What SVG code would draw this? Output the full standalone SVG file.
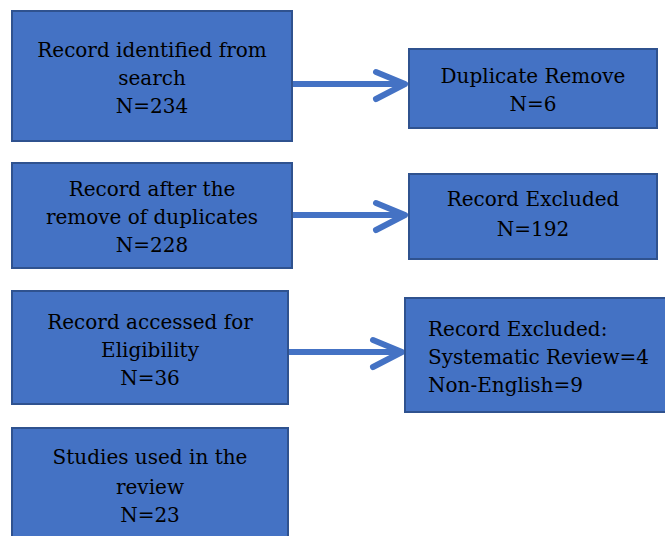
<svg xmlns="http://www.w3.org/2000/svg" width="665" height="536" viewBox="0 0 665 536">
<style>
.box{fill:#4472C4;stroke:#2F528F;stroke-width:2}
text{font-family:"DejaVu Serif","Liberation Serif",serif;font-size:20px;fill:#000}
.c{text-anchor:middle}
.arr{fill:none;stroke:#4472C4;stroke-width:6;stroke-linecap:round;stroke-linejoin:round}
</style>
<rect width="665" height="536" fill="#fff"/>
<g id="connectors">
<path class="arr" d="M292 84 H404 M376 72 L405 84 L376 99"/>
<path class="arr" d="M292 215 H404 M376 203 L405 215 L376 230"/>
<path class="arr" d="M288 352 H400 M373 340 L402 352 L373 367"/>
</g>
<g id="n1"><rect class="box" x="12" y="11" width="280" height="130"/>
<text class="c" x="152" y="57">Record identified from</text>
<text class="c" x="152" y="85">search</text>
<text class="c" x="152" y="113">N=234</text></g>
<g id="n2"><rect class="box" x="409" y="49" width="248" height="79"/>
<text class="c" x="533" y="83">Duplicate Remove</text>
<text class="c" x="533" y="111">N=6</text></g>
<g id="n3"><rect class="box" x="12" y="163" width="280" height="105"/>
<text class="c" x="152" y="196">Record after the</text>
<text class="c" x="152" y="224">remove of duplicates</text>
<text class="c" x="152" y="252">N=228</text></g>
<g id="n4"><rect class="box" x="409" y="174" width="248" height="85"/>
<text class="c" x="533" y="206">Record Excluded</text>
<text class="c" x="533" y="236">N=192</text></g>
<g id="n5"><rect class="box" x="12" y="291" width="276" height="113"/>
<text class="c" x="150" y="329">Record accessed for</text>
<text class="c" x="150" y="357">Eligibility</text>
<text class="c" x="150" y="385">N=36</text></g>
<g id="n6"><rect class="box" x="405" y="298" width="262" height="114"/>
<text x="428" y="336">Record Excluded:</text>
<text x="428" y="364">Systematic Review=4</text>
<text x="428" y="392">Non-English=9</text></g>
<g id="n7"><rect class="box" x="12" y="428" width="276" height="112"/>
<text class="c" x="150" y="464">Studies used in the</text>
<text class="c" x="150" y="494">review</text>
<text class="c" x="150" y="522">N=23</text></g>
</svg>
